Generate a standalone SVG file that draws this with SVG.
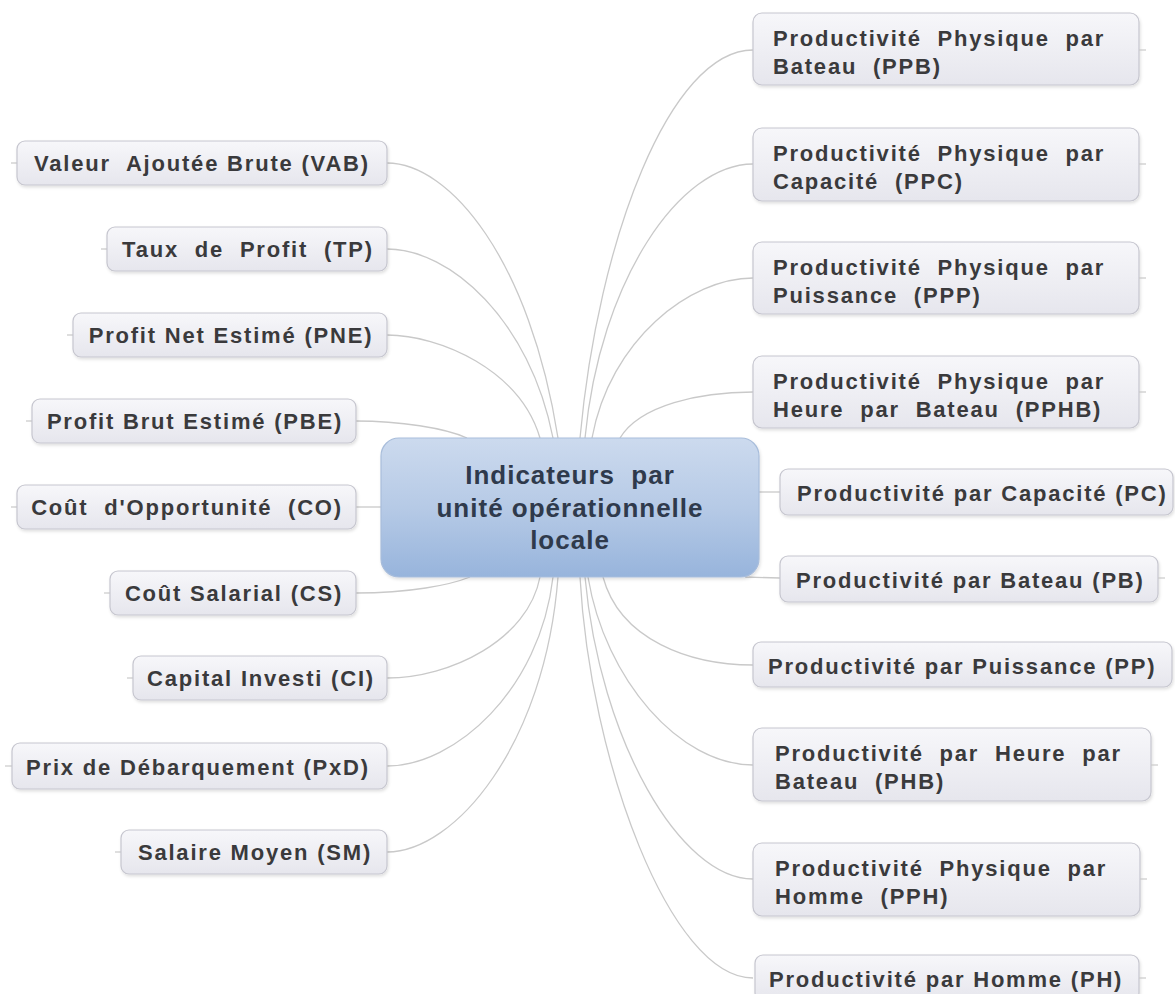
<svg xmlns="http://www.w3.org/2000/svg" width="1175" height="994" viewBox="0 0 1175 994">
<defs>
<linearGradient id="gNode" x1="0" y1="0" x2="0" y2="1">
<stop offset="0" stop-color="#f7f7fa"/>
<stop offset="1" stop-color="#e6e6ed"/>
</linearGradient>
<linearGradient id="gCenter" x1="0" y1="0" x2="0" y2="1">
<stop offset="0" stop-color="#ccdaee"/>
<stop offset="0.5" stop-color="#b6cae6"/>
<stop offset="1" stop-color="#97b4dc"/>
</linearGradient>
<filter id="sh" x="-5%" y="-10%" width="110%" height="130%">
<feDropShadow dx="1" dy="2" stdDeviation="1.5" flood-color="#000" flood-opacity="0.12"/>
</filter>
</defs>
<style>
.box{fill:url(#gNode);stroke:#c6c6cf;stroke-width:1.2;filter:url(#sh)}
.ctr{fill:url(#gCenter);stroke:#a8bddb;stroke-width:1.2;filter:url(#sh)}
.t{font-family:"Liberation Sans",Arial,sans-serif;font-weight:bold;font-size:22px;letter-spacing:1.8px;fill:#3a3a3c;white-space:pre}
.m{text-anchor:middle}
.ct{font-family:"Liberation Sans",Arial,sans-serif;font-weight:bold;font-size:26px;letter-spacing:1px;fill:#2f3a4c;text-anchor:middle;white-space:pre}
.c{fill:none;stroke:#c9c9c9;stroke-width:1.3}
.tick{fill:none;stroke:#c9c9c9;stroke-width:1.2}
</style>
<rect width="1175" height="994" fill="#ffffff"/>
<g id="connectors">
<path class="c" d="M387,163 C450,163 530,260 558,438"/>
<path class="c" d="M387,249 C450,249 530,320 553,438"/>
<path class="c" d="M387,335 C440,335 520,370 540,438"/>
<path class="c" d="M356,421 C400,421 445,428 467,438"/>
<path class="c" d="M356,507 L381,507"/>
<path class="c" d="M356,593 C410,593 450,585 470,577"/>
<path class="c" d="M387,678 C450,678 528,640 540,577"/>
<path class="c" d="M387,766 C455,766 540,690 553,577"/>
<path class="c" d="M387,852 C455,852 545,745 558,577"/>
<path class="c" d="M753,50 C670,50 598,240 580,438"/>
<path class="c" d="M753,164 C680,164 600,280 585,438"/>
<path class="c" d="M753,278 C690,278 610,340 592,438"/>
<path class="c" d="M753,392 C700,392 640,405 620,438"/>
<path class="c" d="M759,492 L780,492"/>
<path class="c" d="M745,577 L780,578"/>
<path class="c" d="M603,577 C620,640 690,665 753,665"/>
<path class="c" d="M588,577 C605,680 680,765 753,765"/>
<path class="c" d="M585,577 C600,740 680,879 753,879"/>
<path class="c" d="M580,577 C590,760 670,978 753,978"/>
</g>
<g id="center">
<rect class="ctr" x="381" y="438" width="378" height="139" rx="18"/>
<text class="ct" x="570" y="484" xml:space="preserve">Indicateurs  par</text>
<text class="ct" x="570" y="517">unité opérationnelle</text>
<text class="ct" x="570" y="549">locale</text>
</g>
<g id="n-vab">
<path class="tick" d="M11,163 H17"/>
<rect class="box" x="17" y="141" width="370" height="44" rx="8"/>
<text class="t m" x="202" y="171" xml:space="preserve">Valeur  Ajoutée Brute (VAB)</text>
</g>
<g id="n-tp">
<path class="tick" d="M101,249 H107"/>
<rect class="box" x="107" y="227" width="280" height="44" rx="8"/>
<text class="t m" x="248" y="257" xml:space="preserve">Taux  de  Profit  (TP)</text>
</g>
<g id="n-pne">
<path class="tick" d="M67,335 H73"/>
<rect class="box" x="73" y="313" width="314" height="44" rx="8"/>
<text class="t m" x="231" y="343">Profit Net Estimé (PNE)</text>
</g>
<g id="n-pbe">
<path class="tick" d="M26,421 H32"/>
<rect class="box" x="32" y="399" width="324" height="44" rx="8"/>
<text class="t m" x="195" y="429">Profit Brut Estimé (PBE)</text>
</g>
<g id="n-co">
<path class="tick" d="M11,507 H17"/>
<rect class="box" x="17" y="485" width="339" height="44" rx="8"/>
<text class="t m" x="187" y="515" xml:space="preserve">Coût  d'Opportunité  (CO)</text>
</g>
<g id="n-cs">
<path class="tick" d="M104,593 H110"/>
<rect class="box" x="110" y="571" width="246" height="44" rx="8"/>
<text class="t m" x="234" y="601">Coût Salarial (CS)</text>
</g>
<g id="n-ci">
<path class="tick" d="M127,678 H133"/>
<rect class="box" x="133" y="656" width="254" height="44" rx="8"/>
<text class="t m" x="261" y="686">Capital Investi (CI)</text>
</g>
<g id="n-pxd">
<path class="tick" d="M5,766 H12"/>
<rect class="box" x="12" y="743" width="375" height="46" rx="8"/>
<text class="t m" x="198" y="775">Prix de Débarquement (PxD)</text>
</g>
<g id="n-sm">
<path class="tick" d="M115,852 H121"/>
<rect class="box" x="121" y="830" width="266" height="44" rx="8"/>
<text class="t m" x="255" y="860">Salaire Moyen (SM)</text>
</g>
<g id="n-ppb">
<rect class="box" x="753" y="13" width="386" height="72" rx="9"/>
<path class="tick" d="M1139,50 H1146"/>
<text class="t" x="773" y="46" xml:space="preserve">Productivité  Physique  par</text>
<text class="t" x="773" y="74" xml:space="preserve">Bateau  (PPB)</text>
</g>
<g id="n-ppc">
<rect class="box" x="753" y="128" width="386" height="73" rx="9"/>
<path class="tick" d="M1139,164 H1146"/>
<text class="t" x="773" y="161" xml:space="preserve">Productivité  Physique  par</text>
<text class="t" x="773" y="189" xml:space="preserve">Capacité  (PPC)</text>
</g>
<g id="n-ppp">
<rect class="box" x="753" y="242" width="386" height="72" rx="9"/>
<path class="tick" d="M1139,278 H1146"/>
<text class="t" x="773" y="275" xml:space="preserve">Productivité  Physique  par</text>
<text class="t" x="773" y="303" xml:space="preserve">Puissance  (PPP)</text>
</g>
<g id="n-pphb">
<rect class="box" x="753" y="356" width="386" height="72" rx="9"/>
<path class="tick" d="M1139,392 H1146"/>
<text class="t" x="773" y="389" xml:space="preserve">Productivité  Physique  par</text>
<text class="t" x="773" y="417" xml:space="preserve">Heure  par  Bateau  (PPHB)</text>
</g>
<g id="n-pc">
<rect class="box" x="780" y="469" width="393" height="46" rx="8"/>
<text class="t" x="797" y="501">Productivité par Capacité (PC)</text>
</g>
<g id="n-pb">
<rect class="box" x="780" y="556" width="378" height="46" rx="8"/>
<path class="tick" d="M1158,578 H1165"/>
<text class="t" x="796" y="588">Productivité par Bateau (PB)</text>
</g>
<g id="n-pp">
<rect class="box" x="753" y="642" width="419" height="45" rx="8"/>
<text class="t" x="768" y="674">Productivité par Puissance (PP)</text>
</g>
<g id="n-phb">
<rect class="box" x="753" y="728" width="398" height="73" rx="9"/>
<path class="tick" d="M1151,765 H1158"/>
<text class="t" x="775" y="761" xml:space="preserve">Productivité  par  Heure  par</text>
<text class="t" x="775" y="789" xml:space="preserve">Bateau  (PHB)</text>
</g>
<g id="n-pph">
<rect class="box" x="753" y="843" width="387" height="73" rx="9"/>
<path class="tick" d="M1140,879 H1147"/>
<text class="t" x="775" y="876" xml:space="preserve">Productivité  Physique  par</text>
<text class="t" x="775" y="904" xml:space="preserve">Homme  (PPH)</text>
</g>
<g id="n-ph">
<rect class="box" x="755" y="955" width="384" height="46" rx="8"/>
<path class="tick" d="M1139,978 H1146"/>
<text class="t" x="769" y="987">Productivité par Homme (PH)</text>
</g>
</svg>
